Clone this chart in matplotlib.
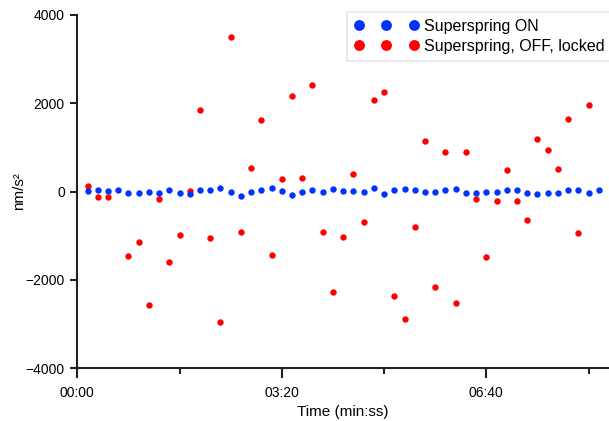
import numpy as np
import matplotlib
matplotlib.use('Agg')
import matplotlib.pyplot as plt
from matplotlib.ticker import FuncFormatter, MultipleLocator

# 数据 (秒, nm/s²)
t_on = list(range(10, 520, 10))
g_on = [7, 30, 15, 45, -45, -30, -8, -38, 23, -23, -60, 30, 30, 68, 0, -106, -20,
        30, 83, 15, -68, -8, 45, -8, 53, 8, 8, -8, 83, -53, 30, 60, 30,
        0, -15, 30, 60, -30, -45, 0, -8, 23, 45, -45, -60, -45, -38, 23, 38, -38, 38]

t_off = list(range(10, 510, 10))
g_off = [127, -122, -122, np.nan, -1450, -1142, -2573, -168, -1586, -974,
         7, 1841, -1058, -2954, 3495, -906, 521, 1622, -1427, 272,
         2159, 308, 2408, -906, -2274, -1019, 392, -680, 2061, 2249,
         -2356, -2892, -802, 1139, -2168, 890, -2523, 897, -174, -1472,
         -220, 482, -220, -643, 1178, 942, 512, 1637, -938, 1955]

labels = ['Superspring ON', 'Superspring, OFF, locked']

plt.rcParams['font.family'] = ['Liberation Sans', 'DejaVu Sans']

fig = plt.figure(figsize=(6.09, 4.21), dpi=100)
ax = fig.add_axes([77.3 / 609, 1 - 368.3 / 421, 1 - 77.3 / 609, (368.3 - 14.7) / 421])

ax.plot(t_off, g_off, 'o', color='#ff0000', markersize=4.6, markeredgewidth=0,
        label=labels[1], zorder=2)
ax.plot(t_on, g_on, 'o', color='#0033ff', markersize=4.6, markeredgewidth=0,
        label=labels[0], zorder=3)

ax.set_xlim(0, 520)
ax.set_ylim(-4000, 4000)
ax.set_yticks([-4000, -2000, 0, 2000, 4000])
ax.xaxis.set_major_locator(MultipleLocator(200))
ax.xaxis.set_minor_locator(MultipleLocator(100))
ax.xaxis.set_major_formatter(FuncFormatter(lambda v, p: '%02d:%02d' % (v // 60, v % 60)))

for s in ['top', 'right']:
    ax.spines[s].set_visible(False)
for s in ['left', 'bottom']:
    ax.spines[s].set_linewidth(1.5)
    ax.spines[s].set_color('#222222')

ax.tick_params(axis='x', which='major', length=7, width=1.5, color='#222222',
               labelsize=10, pad=6)
ax.tick_params(axis='x', which='minor', length=4.5, width=1.5, color='#222222')
ax.tick_params(axis='y', length=5, width=1.5, color='#222222', labelsize=10, pad=4)

ax.set_xlabel('Time (min:ss)', fontsize=11, labelpad=3)
ax.set_ylabel('nm/s²', fontsize=11, labelpad=0)

# 图例 (右侧超出画布)
h, l = ax.get_legend_handles_labels()
leg = ax.legend(h[::-1], l[::-1], loc='upper left', mode='expand',
                bbox_to_anchor=(346.7 / 609, 1 - 60.3 / 421, 280 / 609, 48.6 / 421),
                bbox_transform=fig.transFigure, numpoints=3, markerscale=1.7,
                fontsize=11.5, frameon=True, fancybox=False, handlelength=4.05,
                handletextpad=0.35, labelspacing=0.3, borderpad=0.45,
                borderaxespad=0)
leg.get_frame().set_edgecolor('#e0e0e0')
leg.get_frame().set_linewidth(1.2)

plt.savefig('out.png', dpi=100)
plt.close()
